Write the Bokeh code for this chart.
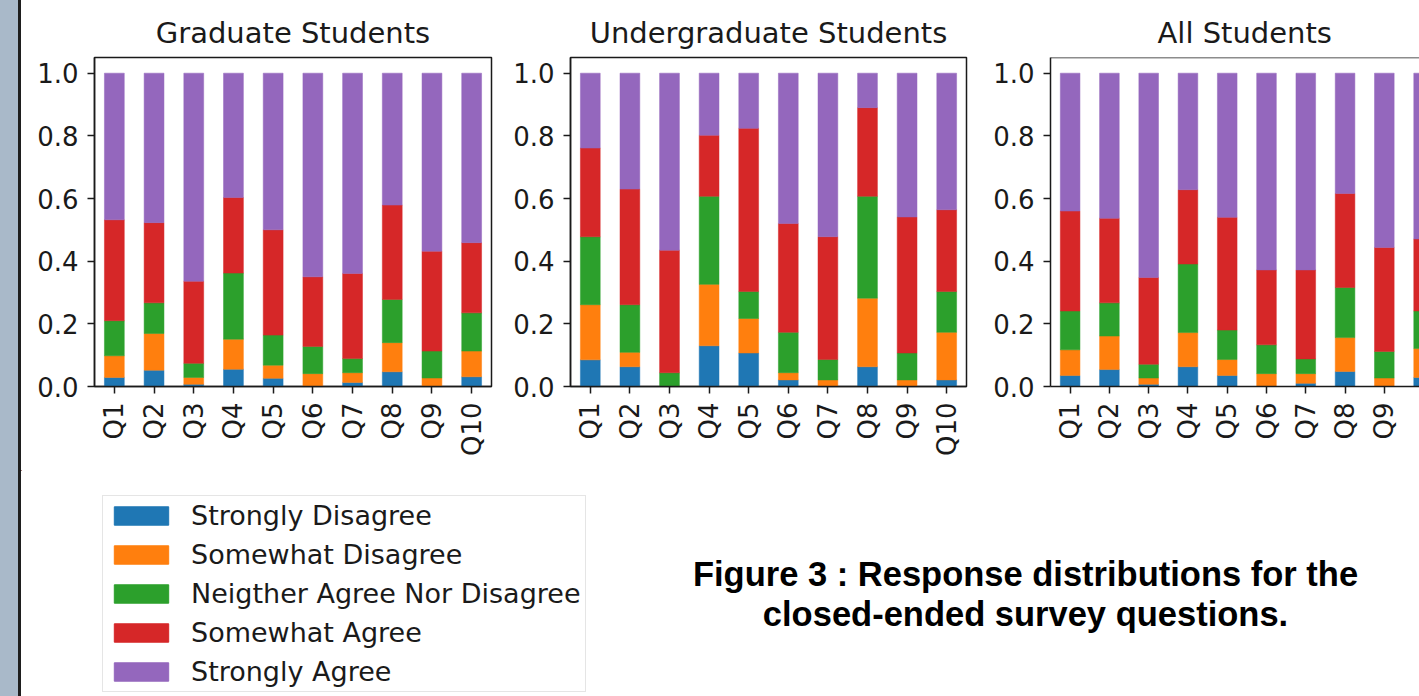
from math import pi
from bokeh.plotting import figure
from bokeh.models import (ColumnDataSource, Range1d, FixedTicker, PrintfTickFormatter,
                          Legend, LegendItem, Label, Div, Span, Row, Column)
from bokeh.embed import file_html
from bokeh.resources import INLINE

questions = ["Q1", "Q2", "Q3", "Q4", "Q5", "Q6", "Q7", "Q8", "Q9", "Q10"]
levels = ["Strongly Disagree", "Somewhat Disagree", "Neigther Agree Nor Disagree",
          "Somewhat Agree", "Strongly Agree"]
colors = ["#1f77b4", "#ff7f0e", "#2ca02c", "#d62728", "#9467bd"]
y_ticks = [0.0, 0.2, 0.4, 0.6, 0.8, 1.0]

# Graduate students (share of responses per level)
grad_strongly_disagree = [0.029, 0.052, 0.007, 0.055, 0.026, 0.000, 0.013, 0.047, 0.000, 0.031]
grad_somewhat_disagree = [0.069, 0.117, 0.022, 0.096, 0.042, 0.041, 0.031, 0.093, 0.027, 0.082]
grad_neither = [0.112, 0.098, 0.045, 0.211, 0.096, 0.087, 0.045, 0.138, 0.086, 0.122]
grad_somewhat_agree = [0.322, 0.256, 0.262, 0.241, 0.336, 0.222, 0.272, 0.301, 0.319, 0.224]
grad_strongly_agree = [0.468, 0.477, 0.664, 0.397, 0.500, 0.650, 0.639, 0.421, 0.568, 0.541]

# Undergraduate students
ugrad_strongly_disagree = [0.085, 0.063, 0.000, 0.130, 0.107, 0.021, 0.000, 0.063, 0.000, 0.021]
ugrad_somewhat_disagree = [0.176, 0.046, 0.000, 0.196, 0.110, 0.023, 0.021, 0.219, 0.021, 0.152]
ugrad_neither = [0.217, 0.152, 0.044, 0.281, 0.086, 0.129, 0.065, 0.325, 0.086, 0.130]
ugrad_somewhat_agree = [0.283, 0.369, 0.391, 0.195, 0.521, 0.347, 0.392, 0.283, 0.434, 0.261]
ugrad_strongly_agree = [0.239, 0.370, 0.565, 0.198, 0.176, 0.480, 0.522, 0.110, 0.459, 0.436]

# All students
all_strongly_disagree = [0.035, 0.054, 0.007, 0.063, 0.035, 0.000, 0.010, 0.048, 0.000, 0.029]
all_somewhat_disagree = [0.082, 0.107, 0.020, 0.109, 0.051, 0.041, 0.031, 0.108, 0.027, 0.092]
all_neither = [0.124, 0.106, 0.044, 0.219, 0.094, 0.092, 0.047, 0.160, 0.085, 0.120]
all_somewhat_agree = [0.319, 0.270, 0.277, 0.237, 0.360, 0.239, 0.284, 0.300, 0.332, 0.230]
all_strongly_agree = [0.440, 0.463, 0.652, 0.372, 0.460, 0.628, 0.628, 0.384, 0.556, 0.529]

FONT = "DejaVu Sans"
INK = "#1a1a1a"


def make_panel(title, series, width, b_left, b_right, x_end, outline=True,
               title_align="center", title_offset=0):
    p = figure(width=width, height=470, x_range=Range1d(-0.5, x_end),
               y_range=Range1d(0, 1.05), output_backend="svg", toolbar_location=None,
               min_border_left=b_left, min_border_right=b_right,
               min_border_top=57, min_border_bottom=84, title=title, margin=0)
    p.title.text_font = FONT
    p.title.text_font_size = "29px"
    p.title.text_font_style = "normal"
    p.title.text_color = INK
    p.title.align = title_align
    p.title.offset = title_offset
    p.title.standoff = 15
    p.grid.visible = False
    p.background_fill_color = "white"
    p.border_fill_color = "white"
    if outline:
        p.outline_line_color = INK
        p.outline_line_width = 1.5
        p.outline_line_alpha = 1
    else:
        p.outline_line_color = None
        p.add_layout(Span(location=1.05, dimension="width", line_color=INK, line_width=1.5))
    data = {"x": list(range(len(questions)))}
    keys = []
    for i, s in enumerate(series):
        data[f"s{i}"] = s
        keys.append(f"s{i}")
    src = ColumnDataSource(data)
    p.vbar_stack(keys, x="x", width=0.5, color=colors, line_width=0.5, source=src)
    for ax in (p.xaxis[0], p.yaxis[0]):
        ax.axis_line_color = INK
        ax.axis_line_width = 1.5
        ax.major_tick_line_color = INK
        ax.major_tick_line_width = 1.5
        ax.major_tick_in = 0
        ax.major_tick_out = 7
        ax.minor_tick_line_color = None
        ax.major_label_text_font = FONT
        ax.major_label_text_font_size = "26px"
        ax.major_label_text_color = INK
    p.xaxis.ticker = FixedTicker(ticks=list(range(len(questions))))
    p.xaxis.major_label_overrides = {i: q for i, q in enumerate(questions)}
    p.xaxis.major_label_orientation = pi / 2
    p.xaxis.major_label_standoff = 9
    p.yaxis.ticker = FixedTicker(ticks=y_ticks)
    p.yaxis.formatter = PrintfTickFormatter(format="%.1f")
    p.yaxis.major_label_standoff = 9
    return p


f1 = make_panel("Graduate Students",
                [grad_strongly_disagree, grad_somewhat_disagree, grad_neither,
                 grad_somewhat_agree, grad_strongly_agree],
                width=489, b_left=73, b_right=19, x_end=9.5)
f2 = make_panel("Undergraduate Students",
                [ugrad_strongly_disagree, ugrad_somewhat_disagree, ugrad_neither,
                 ugrad_somewhat_agree, ugrad_strongly_agree],
                width=480, b_left=59, b_right=24, x_end=9.5)
f3 = make_panel("All Students",
                [all_strongly_disagree, all_somewhat_disagree, all_neither,
                 all_somewhat_agree, all_strongly_agree],
                width=429, b_left=56, b_right=0, x_end=-0.5 + 373 / 39.7,
                outline=False, title_align="left", title_offset=107)

# bottom area: legend + caption (range = page pixel coordinates)
bf = figure(width=1398, height=226, x_range=Range1d(21, 1419), y_range=Range1d(696, 470),
            output_backend="svg", toolbar_location=None, x_axis_type=None, y_axis_type=None,
            min_border=0, margin=0)
bf.outline_line_color = None
bf.grid.visible = False
items = []
for lvl, c in zip(levels, colors):
    # legend swatch renderer, placed outside the visible range
    r = bf.vbar(x=[-5000], top=[0], width=1, color=c)
    items.append(LegendItem(label=lvl, renderers=[r]))
legend = Legend(items=items, location=(81, 4), glyph_width=68, glyph_height=23,
                label_text_font=FONT, label_text_font_size="27px", label_text_color=INK,
                spacing=8, padding=4, margin=0, label_standoff=16,
                border_line_color="#cccccc", border_line_width=1.5,
                background_fill_color="white", background_fill_alpha=1)
bf.add_layout(legend)
for txt, yy in [("Figure 3 : Response distributions for the", 573),
                ("closed-ended survey questions.", 613)]:
    bf.add_layout(Label(x=1025, y=yy, text=txt, text_align="center", text_baseline="middle",
                        text_font="Liberation Sans", text_font_style="bold",
                        text_font_size="34.5px", text_color="black"))

strip = Div(text="", width=21, height=696, margin=0,
            styles={"background": "linear-gradient(to right, #a9b9c9 0px, #a9b9c9 18px, "
                                  "#1e1e1e 18px, #1e1e1e 21px)",
                    "min-height": "696px"})

layout = Row(children=[strip, Column(children=[Row(children=[f1, f2, f3], margin=0), bf],
                                     margin=0)],
             margin=0)

open("out.html", "w").write(file_html(layout, INLINE))
